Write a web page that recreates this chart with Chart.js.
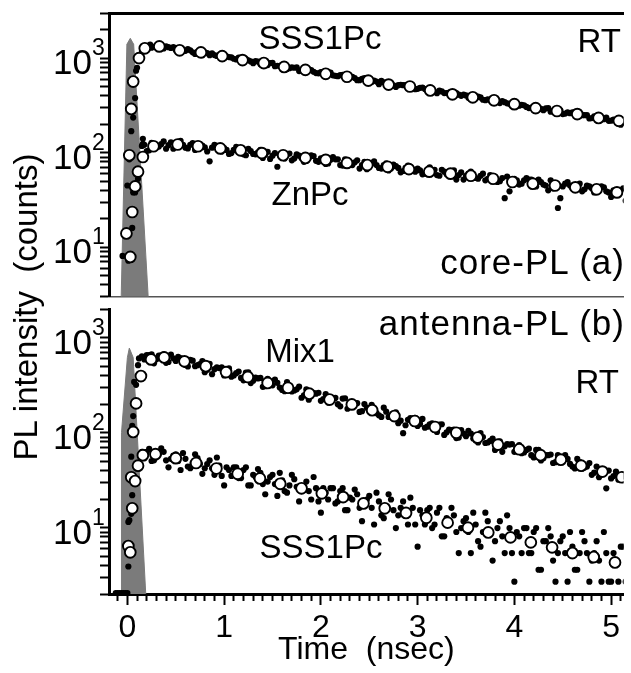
<!DOCTYPE html>
<html>
<head>
<meta charset="utf-8" />
<title>PL decay</title>
<script src="https://cdn.jsdelivr.net/npm/chart.js@4.4.0/dist/chart.umd.min.js"></script>
<style>
  body { margin: 0; background: #fff; }
  #wrap { position: relative; width: 631px; height: 673px; font-family: "Liberation Sans", Arial, sans-serif; }
  canvas { position: absolute; left: 0; }
  .lbl { position: absolute; font-size: 33px; line-height: 33px; color: #000; white-space: pre; }
  .big { font-size: 35px; line-height: 35px; letter-spacing: 1px; }
  .c { transform: translateX(-50%); }
  .r { transform: translateX(-100%); }
  #ytitle { position: absolute; left: -174px; top: 287px; width: 400px; height: 40px; line-height: 40px;
            text-align: center; font-size: 33px; white-space: pre; transform: rotate(-90deg); }
</style>
</head>
<body>
<div id="wrap">
  <canvas id="top" width="631" height="304" style="top:0"></canvas>
  <canvas id="bot" width="631" height="371" style="top:302px"></canvas>

  <div class="lbl c" style="left:320px; top:21px">SSS1Pc</div>
  <div class="lbl r" style="left:621px; top:24px">RT</div>
  <div class="lbl c" style="left:310px; top:177px">ZnPc</div>
  <div class="lbl big r" style="left:625px; top:244px">core-PL (a)</div>
  <div class="lbl big r" style="left:625px; top:305px">antenna-PL (b)</div>
  <div class="lbl c" style="left:300px; top:334px">Mix1</div>
  <div class="lbl r" style="left:619px; top:365px">RT</div>
  <div class="lbl c" style="left:321px; top:530px">SSS1Pc</div>
  <div id="ytitle">PL intensity  (counts)</div>
</div>

<script>
// time channels (ns) for the dense dots, two interleaved sets
const dotTimes = [0.15,0.20,0.25,0.30,0.35,0.40,0.45,0.50,0.55,0.60,
  0.65,0.70,0.75,0.80,0.85,0.90,0.95,1.00,1.05,1.10,
  1.15,1.20,1.25,1.30,1.35,1.40,1.45,1.50,1.55,1.60,
  1.65,1.70,1.75,1.80,1.85,1.90,1.95,2.00,2.05,2.10,
  2.15,2.20,2.25,2.30,2.35,2.40,2.45,2.50,2.55,2.60,
  2.65,2.70,2.75,2.80,2.85,2.90,2.95,3.00,3.05,3.10,
  3.15,3.20,3.25,3.30,3.35,3.40,3.45,3.50,3.55,3.60,
  3.65,3.70,3.75,3.80,3.85,3.90,3.95,4.00,4.05,4.10,
  4.15,4.20,4.25,4.30,4.35,4.40,4.45,4.50,4.55,4.60,
  4.65,4.70,4.75,4.80,4.85,4.90,4.95,5.00,5.05,5.10,5.15];
const dotTimes2 = [0.175,0.225,0.275,0.325,0.375,0.425,0.475,0.525,0.575,0.625,
  0.675,0.725,0.775,0.825,0.875,0.925,0.975,1.025,1.075,1.125,
  1.175,1.225,1.275,1.325,1.375,1.425,1.475,1.525,1.575,1.625,
  1.675,1.725,1.775,1.825,1.875,1.925,1.975,2.025,2.075,2.125,
  2.175,2.225,2.275,2.325,2.375,2.425,2.475,2.525,2.575,2.625,
  2.675,2.725,2.775,2.825,2.875,2.925,2.975,3.025,3.075,3.125,
  3.175,3.225,3.275,3.325,3.375,3.425,3.475,3.525,3.575,3.625,
  3.675,3.725,3.775,3.825,3.875,3.925,3.975,4.025,4.075,4.125,
  4.175,4.225,4.275,4.325,4.375,4.425,4.475,4.525,4.575,4.625,
  4.675,4.725,4.775,4.825,4.875,4.925,4.975,5.025,5.075,5.125];

// (a) core-PL, SSS1Pc
const topSssDots = [1150,1300,1290,1350,1280,1330,1280,1220,1280,1195,
  1210,1105,1150,1150,1075,1076,1075,1005,1025,985,
  1015,940,950,885,920,887,845,890,830,835,
  765,800,800,745,746,745,695,710,685,705,
  650,660,615,640,615,585,615,575,580,530,
  555,555,515,517,518,483,493,474,489,452,
  457,426,444,427,406,427,399,403,369,384,
  384,359,359,359,335,342,329,339,314,317,
  296,308,296,281,296,276,279,256,267,267,
  249,249,249,232,237,228,235,218,219,198,209];
const topSssDots2 = [1195,1340,1317,1360,1265,1306,1306,1206,1220,1245,
  1151,1163,1073,1130,1120,1055,1014,1046,1016,967,
  949,977,922,931,860,888,888,821,829,847,
  782,791,730,768,761,718,690,712,691,658,
  645,665,627,633,585,604,605,559,565,576,
  532,538,496,523,518,488,469,485,471,448,
  439,453,427,431,398,411,411,380,384,392,
  363,367,338,356,352,333,319,329,320,305,
  299,308,290,294,271,280,280,259,262,267,
  247,249,230,242,240,226,217,224,217,207];
const topSssRiseT = [0.04, 0.06, 0.08, 0.09, 0.10, 0.12, 0.235];
const topSssRiseV = [169, 235, 378, 735, 790, 1050, 1390];
const topSssCircT = [0.02,0.04,0.06,0.12,0.18,0.33,0.54,0.76,0.98,1.19,1.41,1.62,1.84,2.05,2.27,2.49,2.70,2.92,3.13,3.36,3.57,3.79,4.00,4.22,4.44,4.65,4.87,5.08];
const topSssCircV = [94,290,565,1000,1270,1330,1210,1150,1050,953,887,807,751,683,635,578,525,501,455,414,385,358,326,296,276,256,233,217];

// (a) core-PL, ZnPc
const topZnDots = [118,104,127,116,123,110,129,120,133,113,
  121,107,123,114,81,121,105,112,97,107,
  109,96,110,97,101,88,102,93,71,88,
  95,83,96,88,82,94,82,87,76,84,
  85,74,85,76,79,68,80,73,81,69,
  74,65,75,69,64,73,64,68,59,65,
  66,58,66,59,61,52,62,57,63,54,
  57,51,58,54,50,33,39,53,46,51,
  52,45,52,46,40,42,26,44,49,42,
  45,39,45,42,39,44,39,34,36,40,31];
const topZnDots2 = [121,106,123,116,132,120,110,127,121,111,
  126,112,119,103,113,118,103,107,99,115,
  110,94,104,96,107,95,86,99,94,87,
  98,87,93,80,88,92,80,84,77,90,
  85,73,81,74,83,74,67,77,74,68,
  77,68,72,62,69,71,63,65,60,70,
  66,57,63,58,65,58,52,60,57,53,
  60,53,56,49,54,56,49,51,47,54,
  52,44,49,45,51,45,33,47,45,41,
  47,41,44,38,42,43,38,40,36,42];
const topZnRiseT = [-0.05, 0.01, 0.00, 0.02, 0.05, 0.06, 0.08, 0.10, 0.11, 0.16, 0.16];
const topZnRiseV = [8.1, 7.2, 45, 85, 16, 38, 38, 61, 53, 124, 140];
const topZnCircT = [-0.01,0.03,0.05,0.08,0.11,0.16,0.27,0.52,0.73,0.96,1.17,1.39,1.61,1.84,2.05,2.27,2.48,2.69,2.91,3.12,3.34,3.55,3.78,3.98,4.19,4.42,4.63,4.85,5.06];
const topZnCircV = [14,7.9,23.6,44,63,90,117,122,117,111,106,99,94,88,84,78,74,71,67,63,60,57,53,49,47,45,43,41,38];

// (b) antenna-PL, Mix1
const botMixDots = [640,660,672,594,655,546,666,572,611,518,
  587,503,530,435,533,468,480,402,477,402,
  441,357,432,354,374,305,369,316,336,283,
  342,273,287,234,287,252,258,217,255,213,
  233,190,231,191,203,166,201,172,181,153,
  184,147,154,126,99,137,141,118,140,116,
  126,102,123,101,107,88,107,92,98,83,
  99,78,82,66,81,72,75,63,74,62,
  68,55,66,54,58,48,58,50,53,44,
  53,42,44,36,44,39,26,33,39,33,36];
const botMixDots2 = [592,660,539,652,669,557,609,630,546,500,
  575,516,569,462,414,488,489,423,390,425,
  378,430,334,381,378,310,337,363,300,274,
  313,279,306,248,223,263,264,227,208,226,
  200,229,179,206,205,169,184,197,161,147,
  167,150,164,134,120,143,144,124,113,123,
  108,122,95,108,108,89,98,105,87,79,
  90,79,87,70,63,76,76,66,61,66,
  58,66,51,58,59,49,53,58,47,42,
  49,43,48,38,34,40,40,35,32,35];
const botMixRiseT = [0.05, 0.06, 0.07, 0.09, 0.11, 0.12];
const botMixRiseV = [118, 150, 343, 320, 515, 608];
const botMixCircT = [0.06,0.09,0.14,0.245,0.38,0.59,0.81,1.02,1.245,1.45,1.66,1.88,2.09,2.32,2.53,2.76,2.97,3.18,3.40,3.62,3.83,4.05,4.27,4.48,4.69,4.91,5.11];
const botMixCircV = [102,204,396,593,622,566,503,436,387,335,298,258,224,199,173,150,133,115,100,89,75,67,58,52,45,39,34];

// (b) antenna-PL, SSS1Pc
const botSssDots = [63,63,50.4,61.2,68.4,51.3,53.1,59.4,40.5,53.1,
  42.3,59.4,46.8,42.3,51.3,36,45,27.9,40.5,43.2,
  33.3,40.5,27.9,36,41.4,28.8,30.6,36,21.6,31.5,
  23.4,36,27,24.3,30.6,19.8,26.1,14.4,23.4,26.1,
  18,24.3,15.3,20.7,25.2,16.2,17.1,21.6,10.8,18.9,
  12.6,22.5,15.3,13.5,18.9,10.8,16.2,6.3,13.5,15.3,
  9.9,14.4,8.1,12.6,16.2,9,9.9,12.6,5.4,10.8,
  6.3,14.4,9,7.2,11.7,5.4,9.9,2.7,8.1,9.9,
  5.4,9,3.6,7.2,9.9,4.5,5.4,8.1,2.7,6.3,
  3.6,9,5.4,4.5,7.2,2.7,5.4,2.7,4.5,6.3,2.7];
const botSssDots2 = [54,67.5,51.3,59.4,63,43.2,57.6,50.4,61.2,44.1,
  47.7,54,36.9,46.8,42.3,54.9,35.1,43.2,35.1,43.2,
  33.3,43.2,27.9,34.2,37.8,22.5,34.2,28.8,37.8,24.3,
  27.9,32.4,18.9,27,24.3,34.2,18.9,26.1,19.8,26.1,
  18.9,26.1,15.3,19.8,22.5,11.7,19.8,16.2,23.4,13.5,
  16.2,19.8,9.9,16.2,13.5,20.7,10.8,15.3,10.8,16.2,
  10.8,16.2,8.1,11.7,13.5,5.4,11.7,9,14.4,7.2,
  9,11.7,4.5,9.9,8.1,13.5,5.4,9,5.4,9.9,
  5.4,9.9,3.6,7.2,8.1,2.7,7.2,5.4,9,3.6,
  5.4,7.2,2.7,5.4,4.5,9,2.7,5.4,2.7,6.3];
const botSssRiseT = [-0.12,-0.10,-0.08,-0.06,-0.04,-0.02,0.00,0.01,0.01,0.02,0.04,0.05,0.04];
const botSssRiseV = [2.05,2.05,2.05,2.05,2.05,2.05,2.05,3.9,11.5,12,14,22,56];
const botSssCircT = [0.01,0.03,0.04,0.05,0.08,0.11,0.16,0.29,0.50,0.71,0.92,1.14,1.37,1.58,1.80,2.01,2.23,2.44,2.66,2.88,3.09,3.31,3.52,3.73,3.96,4.17,4.39,4.60,4.82,5.04];
const botSssCircV = [6.4,5.5,34,16,31,45,58,59.5,54,48,42,37,33,29,26,23,21,18,16,14.3,12.7,11.3,10,8.9,7.9,7.0,6.2,5.4,4.9,4.3];

// instrument response (gray)
const topIrfT = [-0.064, -0.005, 0.03, 0.065, 0.215];
const topIrfV = [3, 1400, 1620, 1400, 3];
const botIrfT = [-0.061, -0.061, 0.0, 0.02, 0.06, 0.19];
const botIrfV = [2, 100, 620, 780, 620, 2];

// axes
const xMin = -0.19, xMax = 5.13;
const xMajor = [0, 1, 2, 3, 4, 5];
const xMinor = [-0.1,0.1,0.2,0.3,0.4,0.5,0.6,0.7,0.8,0.9,1.1,1.2,1.3,1.4,1.5,1.6,1.7,1.8,1.9,
  2.1,2.2,2.3,2.4,2.5,2.6,2.7,2.8,2.9,3.1,3.2,3.3,3.4,3.5,3.6,3.7,3.8,3.9,
  4.1,4.2,4.3,4.4,4.5,4.6,4.7,4.8,4.9,5.1];
const yDecades = [10, 100, 1000];
const yExps = ['1', '2', '3'];
const yMult = [1, 2, 3, 4, 5, 6, 7, 8, 9];

const FONT = '"Liberation Sans", Arial, sans-serif';
Chart.defaults.font.family = FONT;
Chart.defaults.color = '#000';

const irfGray = '#7b7b7b';
const pts = (ts, vs) => ts.map((t, i) => ({x: t, y: vs[i]}));

function logTicks(min, max) {
  const out = [];
  [1, 10, 100, 1000].forEach(d => yMult.forEach(m => {
    const v = d * m;
    if (v >= min && v <= max) out.push({value: v});
  }));
  return out;
}

function circles(t, v) {
  return {data: pts(t, v), backgroundColor: '#fff', borderColor: '#000', borderWidth: 1.9,
          pointRadius: 5.4, order: 0};
}
function dots(t, v) {
  return {data: pts(t, v), backgroundColor: '#000', borderWidth: 0, pointRadius: 3.1, order: 1};
}
function irf(t, v) {
  return {type: 'line', data: pts(t, v), fill: 'start', backgroundColor: irfGray, borderColor: irfGray,
          borderWidth: 1, pointRadius: 0, tension: 0, order: 2};
}

const decadeLabels = {
  id: 'decadeLabels',
  afterDraw(chart) {
    const ctx = chart.ctx, sc = chart.scales.y;
    ctx.save();
    ctx.fillStyle = '#000';
    ctx.textBaseline = 'alphabetic';
    yDecades.forEach((v, i) => {
      const py = sc.getPixelForValue(v);
      ctx.font = '35px ' + FONT;
      ctx.textAlign = 'right';
      ctx.fillText('10', 92, py + 16);
      ctx.font = '23px ' + FONT;
      ctx.textAlign = 'left';
      ctx.fillText(yExps[i], 92, py - 3);
    });
    ctx.restore();
  }
};

function yAxis(min, max) {
  return {
    type: 'logarithmic', position: 'left', min: min, max: max,
    afterFit: s => { s.width = 109; },
    afterBuildTicks: s => { s.ticks = logTicks(min, max); },
    ticks: {display: false, autoSkip: false},
    grid: {drawOnChartArea: false, drawTicks: true, tickLength: 9, tickWidth: 2, tickColor: '#000'},
    border: {display: true, width: 3, color: '#000'}
  };
}

const common = {
  animation: false, responsive: false, events: [],
  plugins: {legend: {display: false}, tooltip: {enabled: false}}
};

new Chart(document.getElementById('top'), {
  type: 'scatter',
  data: {datasets: [
    circles(topSssCircT, topSssCircV),
    circles(topZnCircT, topZnCircV),
    dots(dotTimes, topSssDots),
    dots(dotTimes2, topSssDots2),
    dots(topSssRiseT, topSssRiseV),
    dots(dotTimes, topZnDots),
    dots(dotTimes2, topZnDots2),
    dots(topZnRiseT, topZnRiseV),
    irf(topIrfT, topIrfV)
  ]},
  options: Object.assign({}, common, {
    layout: {padding: {top: 13, bottom: 1, left: 0, right: 0}},
    scales: {
      x: {type: 'linear', position: 'top', min: xMin, max: xMax,
          grid: {display: false}, ticks: {display: false},
          border: {display: true, width: 3, color: '#000'},
          afterFit: s => { s.height = 0; }},
      xb: {type: 'linear', position: 'bottom', min: xMin, max: xMax,
          grid: {display: false}, ticks: {display: false},
          border: {display: true, width: 1.5, color: '#555'},
          afterFit: s => { s.height = 0; }},
      y: yAxis(3, 3000)
    }
  }),
  plugins: [decadeLabels]
});

new Chart(document.getElementById('bot'), {
  type: 'scatter',
  data: {datasets: [
    circles(botMixCircT, botMixCircV),
    circles(botSssCircT, botSssCircV),
    dots(dotTimes, botMixDots),
    dots(dotTimes2, botMixDots2),
    dots(botMixRiseT, botMixRiseV),
    dots(dotTimes, botSssDots),
    dots(dotTimes2, botSssDots2),
    dots(botSssRiseT, botSssRiseV),
    irf(botIrfT, botIrfV)
  ]},
  options: Object.assign({}, common, {
    layout: {padding: {top: 1, bottom: 0, left: 0, right: 0}},
    scales: {
      xm: {type: 'linear', position: 'bottom', weight: 0, min: xMin, max: xMax,
           afterBuildTicks: s => { s.ticks = xMinor.map(v => ({value: v})); },
           ticks: {display: false, autoSkip: false},
           grid: {drawOnChartArea: false, drawTicks: true, tickLength: 7, tickWidth: 2, tickColor: '#000'},
           border: {display: false},
           afterFit: s => { s.height = 0; }},
      x: {type: 'linear', position: 'bottom', weight: 1, min: xMin, max: xMax,
          afterBuildTicks: s => { s.ticks = xMajor.map(v => ({value: v})); },
          ticks: {autoSkip: false, maxRotation: 0, padding: 4, font: {size: 32}, color: '#000'},
          grid: {drawOnChartArea: false, drawTicks: true, tickLength: 11, tickWidth: 2, tickColor: '#000'},
          border: {display: true, width: 3, color: '#000'},
          title: {display: true, text: 'Time  (nsec)', font: {size: 32}, color: '#000', padding: {top: 0, bottom: 4}},
          afterFit: s => { s.height = 79; }},
      y: yAxis(2, 2000)
    }
  }),
  plugins: [decadeLabels]
});
</script>
</body>
</html>
